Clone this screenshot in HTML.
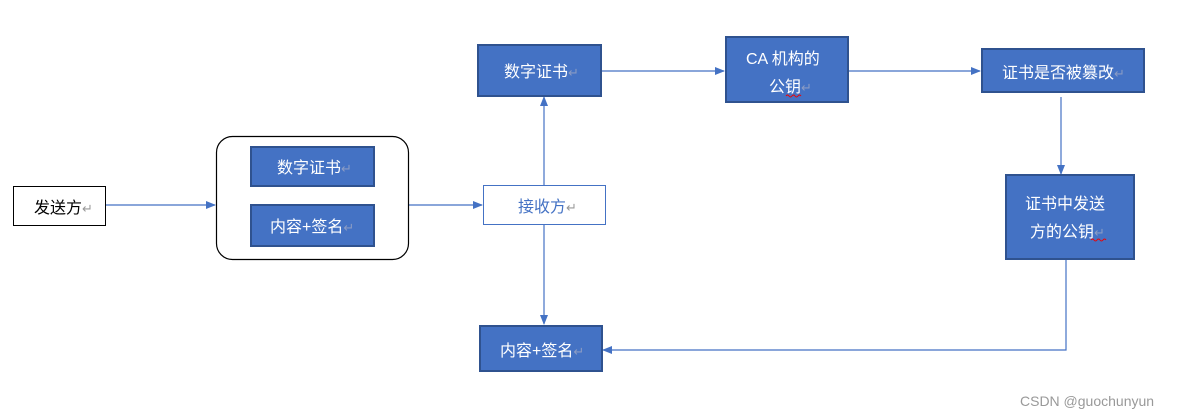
<!DOCTYPE html>
<html><head><meta charset="utf-8"><style>
html,body{margin:0;padding:0;background:#fff;width:1180px;height:420px;overflow:hidden}
svg text{font-family:"Liberation Sans","Noto Sans CJK SC",sans-serif}
</style></head><body>
<svg width="1180" height="420" viewBox="0 0 1180 420" xmlns="http://www.w3.org/2000/svg">
<defs><marker id="a" markerWidth="10" markerHeight="8" refX="9" refY="4" orient="auto" markerUnits="userSpaceOnUse"><path d="M0,0 L10,4 L0,8 z" fill="#4472c4"/></marker></defs>
<g stroke="#4472c4" stroke-width="1.2" fill="none">
<line x1="106" y1="205" x2="215" y2="205" marker-end="url(#a)"/>
<line x1="408" y1="205" x2="482" y2="205" marker-end="url(#a)"/>
<line x1="544" y1="185" x2="544" y2="97" marker-end="url(#a)"/>
<line x1="544" y1="224" x2="544" y2="324" marker-end="url(#a)"/>
<line x1="601" y1="71" x2="724" y2="71" marker-end="url(#a)"/>
<line x1="848" y1="71" x2="980" y2="71" marker-end="url(#a)"/>
<line x1="1061" y1="97" x2="1061" y2="174" marker-end="url(#a)"/>
<polyline points="1066,260 1066,350 603,350" marker-end="url(#a)"/>
</g>
<rect x="13.5" y="186.5" width="92" height="39" fill="#fff" stroke="#000" stroke-width="1"/>
<text x="34" y="213" font-size="16" fill="#000">发送方<tspan fill="#999" font-size="13">↵</tspan></text>
<rect x="216.5" y="136.5" width="192" height="123" rx="16" fill="#fff" stroke="#000" stroke-width="1.2"/>
<g fill="#4472c4" stroke="#2f528f" stroke-width="2">
<rect x="251" y="147" width="123" height="39"/>
<rect x="251" y="205" width="123" height="41"/>
<rect x="478" y="45" width="123" height="51"/>
<rect x="726" y="37" width="122" height="65"/>
<rect x="982" y="49" width="162" height="43"/>
<rect x="1006" y="175" width="128" height="84"/>
<rect x="480" y="326" width="122" height="45"/>
</g>
<rect x="483.5" y="185.5" width="122" height="39" fill="#fff" stroke="#4472c4" stroke-width="1"/>
<g fill="#fff" font-size="16">
<text x="277" y="173">数字证书<tspan fill="#8a9bc4" font-size="13">↵</tspan></text>
<text x="270" y="232">内容+签名<tspan fill="#8a9bc4" font-size="13">↵</tspan></text>
<text x="504" y="77">数字证书<tspan fill="#8a9bc4" font-size="13">↵</tspan></text>
<text x="746" y="64">CA 机构的</text>
<text x="769" y="92">公钥<tspan fill="#8a9bc4" font-size="13">↵</tspan></text>
<text x="1002" y="78">证书是否被篡改<tspan fill="#8a9bc4" font-size="13">↵</tspan></text>
<text x="1025" y="209">证书中发送</text>
<text x="1030" y="237">方的公钥<tspan fill="#8a9bc4" font-size="13">↵</tspan></text>
<text x="500" y="356">内容+签名<tspan fill="#8a9bc4" font-size="13">↵</tspan></text>
</g>
<text x="518" y="212" font-size="16" fill="#4472c4">接收方<tspan fill="#999" font-size="13">↵</tspan></text>
<path d="M786,96 q1.5,-2 3,0 t3,0 t3,0 t3,0 t3,0" stroke="#e00" stroke-width="1" fill="none"/>
<path d="M1091,240 q1.5,-2 3,0 t3,0 t3,0 t3,0 t3,0" stroke="#e00" stroke-width="1" fill="none"/>
<text x="1020" y="406" font-size="14" fill="#999">CSDN @guochunyun</text>
</svg>
</body></html>
